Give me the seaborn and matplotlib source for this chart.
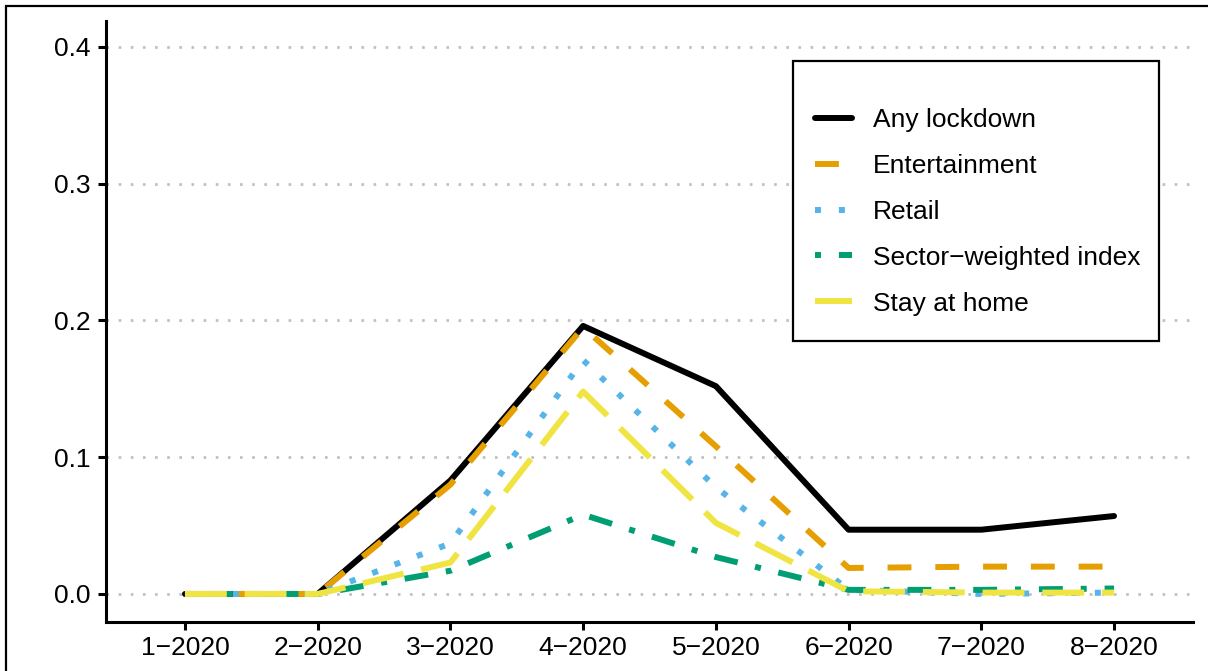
import matplotlib
matplotlib.use("Agg")
import matplotlib.pyplot as plt
import matplotlib.patches as mpatches
import seaborn as sns
import pandas as pd

# Monthly share of the sample under each lockdown type, 2020
months = [1, 2, 3, 4, 5, 6, 7, 8]
month_labels = ["1\u22122020", "2\u22122020", "3\u22122020", "4\u22122020",
                "5\u22122020", "6\u22122020", "7\u22122020", "8\u22122020"]

any_lockdown = [0.0, 0.0, 0.083, 0.196, 0.152, 0.047, 0.047, 0.057]
entertainment = [0.0, 0.0, 0.080, 0.195, 0.108, 0.019, 0.020, 0.020]
retail = [0.0, 0.0, 0.037, 0.171, 0.078, 0.003, 0.000, 0.001]
sector_weighted = [0.0, 0.0, 0.017, 0.058, 0.027, 0.003, 0.003, 0.004]
stay_at_home = [0.0, 0.0, 0.023, 0.148, 0.052, 0.002, 0.001, 0.001]

series_names = ["Any lockdown", "Entertainment", "Retail",
                "Sector\u2212weighted index", "Stay at home"]
series_values = [any_lockdown, entertainment, retail, sector_weighted, stay_at_home]
colors = ["#000000", "#E69F00", "#56B4E9", "#009E73", "#F0E442"]
linestyles = ["-", (0, (4, 4)), (0, (1, 3)), (0, (1, 3, 4, 3)), (0, (7, 3))]

y_ticks = [0.0, 0.1, 0.2, 0.3, 0.4]
y_tick_labels = ["0.0", "0.1", "0.2", "0.3", "0.4"]

sns.set_theme(style="white")
plt.rcParams["font.family"] = ["Liberation Sans", "DejaVu Sans"]

FS = 19
W, H = 1208, 671
fig = plt.figure(figsize=(W / 100, H / 100), dpi=100)
ax = fig.add_axes([106 / W, 1 - 622 / H, (1193 - 106) / W, (622 - 21) / H])

for ytk in y_ticks:
    ax.axhline(ytk, color="#BEBEBE", lw=1.9, linestyle=(0, (1, 3.6)),
               zorder=0)

lw = 4.3
for name, vals, col, ls in zip(series_names, series_values, colors, linestyles):
    df = pd.DataFrame({"month": months, "value": vals})
    sns.lineplot(data=df, x="month", y="value", ax=ax, color=col,
                 linestyle=ls, lw=lw, label=name, zorder=3)

ax.set_xlim(0.405, 8.595)
ax.set_ylim(-0.0205, 0.419)
ax.set_xticks(months)
ax.set_xticklabels(month_labels, fontsize=FS)
ax.set_yticks(y_ticks)
ax.set_yticklabels(y_tick_labels, fontsize=FS)
ax.set_xlabel("")
ax.set_ylabel("")

for side in ["top", "right"]:
    ax.spines[side].set_visible(False)
for side in ["left", "bottom"]:
    ax.spines[side].set_visible(True)
    ax.spines[side].set_color("black")
    ax.spines[side].set_linewidth(2.2)

ax.tick_params(axis="both", which="major", direction="out", length=5.8,
               width=2.2, color="black", labelsize=FS, labelcolor="black",
               left=True, bottom=True)
ax.tick_params(axis="y", pad=5.5)
ax.tick_params(axis="x", pad=4.5)

# legend entries without a frame; the box is drawn separately
leg = ax.legend(loc="upper left", bbox_to_anchor=(815 / W, 1 - 108 / H),
                bbox_transform=fig.transFigure, borderaxespad=0,
                fontsize=FS, handlelength=1.4, handletextpad=0.8,
                labelspacing=0.83, borderpad=0, frameon=False)
for t in leg.get_texts():
    t.set_color("black")

fig.add_artist(mpatches.Rectangle((793 / W, 1 - 341 / H), (1159 - 793) / W,
                                  (341 - 61) / H, transform=fig.transFigure,
                                  facecolor="white", edgecolor="black",
                                  lw=1.6, zorder=4))
leg.set_zorder(5)
fig.add_artist(leg)

# outer frame around the figure
fig.add_artist(mpatches.Rectangle((5.5 / W, -0.2), 1.3, 1 - 5.5 / H + 0.2,
                                  transform=fig.transFigure, fill=False,
                                  edgecolor="black", lw=1.6, clip_on=False))

fig.savefig("out.png", dpi=100)
